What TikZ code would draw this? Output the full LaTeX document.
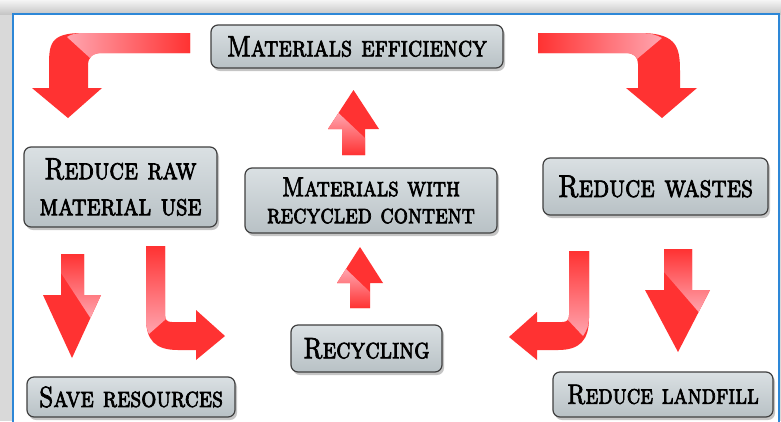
\documentclass[tikz,border=0pt]{standalone}
\usepackage{fontspec}
\usetikzlibrary{shadows}
\newfontfamily\boxfont{lmromancaps10-regular.otf}[FakeBold=2.5, FakeStretch=0.82]
\definecolor{arrowred}{RGB}{255,50,50}
\definecolor{arrowpink}{RGB}{255,165,175}
\definecolor{frameblue}{RGB}{45,135,215}
\definecolor{boxtop}{RGB}{218,224,227}
\definecolor{boxbot}{RGB}{184,193,197}

\begin{document}
\begin{tikzpicture}[x=1pt, y=-1pt,
  box/.style={draw=black!75, line width=1.2pt, rounded corners=7pt, top color=boxtop, bottom color=boxbot, align=center, inner sep=0pt, drop shadow={opacity=0.45, shadow xshift=2pt, shadow yshift=-3pt}},
  redarrow/.style={fill=arrowred}]
  \useasboundingbox (0,0) rectangle (781,421);
  % frame
  \fill[gray!30] (0,0) rectangle (781,421);
  \shade[top color=gray!8, bottom color=gray!45] (0,0) rectangle (781,14);
  \fill[white] (13,14) rectangle (779,440);
  \draw[frameblue, line width=1.5pt] (13,440) -- (13,14) -- (779,14) -- (779,440);

  \node[box, minimum width=292pt, minimum height=43pt, font=\boxfont\fontsize{29.5}{30}\selectfont] (eff) at (357,46.5) {Materials efficiency};
  \node[box, minimum width=193pt, minimum height=80pt, font=\boxfont\fontsize{30.5}{36}\selectfont] (raw) at (120.5,187) {Reduce raw\\material use};
  \node[box, minimum width=252pt, minimum height=65pt, font=\boxfont\fontsize{27.5}{27}\selectfont] (content) at (371,200.5) {Materials with\\recycled content};
  \node[box, minimum width=225pt, minimum height=57pt, font=\boxfont\fontsize{31.5}{32}\selectfont] (wastes) at (655.5,186.5) {Reduce wastes};
  \node[box, minimum width=208pt, minimum height=40pt, font=\boxfont\fontsize{29}{30}\selectfont] (save) at (131,397) {Save resources};
  \node[box, minimum width=151pt, minimum height=47pt, font=\boxfont\fontsize{29.5}{30}\selectfont] (recycling) at (366.5,348.5) {Recycling};
  \node[box, minimum width=220pt, minimum height=45pt, font=\boxfont\fontsize{28}{30}\selectfont] (landfill) at (663,394.5) {Reduce landfill};

  % bent arrows
  \fill[redarrow] (190,33) -- (82,33) .. controls (49,33) and (49,45) .. (49,68) -- (49,88) -- (32,88) -- (68,118) -- (102,88) -- (88,88) -- (88,66) .. controls (88,57) and (92,53) .. (102,53) -- (190,53) -- cycle;
  \shade[left color=arrowpink, right color=arrowred] (190,33) -- (82,33) .. controls (75,33) and (70,35) .. (67,37) -- (90,58) .. controls (92,55) and (96,53) .. (102,53) -- (190,53) -- cycle;
  \fill[redarrow] (538,33) -- (640,33) .. controls (680,33) and (680,50) .. (680,75) -- (680,88) -- (697,88) -- (662,118) -- (626,88) -- (638,88) -- (638,64) .. controls (638,57) and (634,53) .. (626,53) -- (538,53) -- cycle;
  \shade[left color=arrowred, right color=arrowpink] (538,33) -- (640,33) .. controls (650,33) and (657,35) .. (662,38) -- (637,59) .. controls (636,56) and (632,53) .. (626,53) -- (538,53) -- cycle;
  \fill[redarrow] (146,246) -- (146,318) .. controls (146,340) and (155,350) .. (178,350) -- (196,350) -- (196,360) -- (225,336) -- (196,310) -- (196,322) -- (172,322) .. controls (167,322) and (165,320) .. (165,314) -- (165,246) -- cycle;
  \shade[top color=arrowred, bottom color=arrowpink] (146,246) -- (146,318) .. controls (146,326) and (147,330) .. (149,334) -- (166,319) .. controls (165,318) and (165,316) .. (165,314) -- (165,246) -- cycle;
  \fill[redarrow] (589,251) -- (589,318) .. controls (589,340) and (580,350) .. (558,350) -- (537,350) -- (537,360) -- (509,337) -- (537,312) -- (537,322) -- (562,322) .. controls (567,322) and (569,320) .. (569,315) -- (569,251) -- cycle;
  \shade[top color=arrowred, bottom color=arrowpink] (569,251) -- (569,315) .. controls (569,317) and (568.5,318.5) .. (567.5,319.5) -- (583,336) .. controls (587,330) and (589,325) .. (589,318) -- (589,251) -- cycle;

  % straight arrows
  \fill[redarrow] (342,155) -- (342,129) -- (328,129) -- (353.5,90) -- (379,129) -- (365,129) -- (365,155) -- cycle;
  \shade[top color=arrowpink, bottom color=arrowred] (338.5,113) -- (365,138) -- (365,155) -- (342,155) -- (342,129) -- (328,129) -- cycle;
  \fill[redarrow] (350,308) -- (350,283) -- (337,283) -- (360,247) -- (383,283) -- (370,283) -- (370,308) -- cycle;
  \shade[top color=arrowpink, bottom color=arrowred] (346,269) -- (370,292) -- (370,308) -- (350,308) -- (350,283) -- (337,283) -- cycle;
  \fill[redarrow] (61,254) -- (61,295) -- (43,295) -- (72,358) -- (101,295) -- (84,295) -- (84,254) -- cycle;
  \shade[top color=arrowred, bottom color=arrowpink] (61,254) -- (61,273) -- (90.4,318) -- (101,295) -- (84,295) -- (84,254) -- cycle;
  \fill[redarrow] (664,249) -- (664,290) -- (645,290) -- (678,352) -- (710,290) -- (692,290) -- (692,249) -- cycle;
  \shade[top color=arrowred, bottom color=arrowpink] (664,249) -- (664,272) -- (698.6,312) -- (710,290) -- (692,290) -- (692,249) -- cycle;
\end{tikzpicture}
\end{document}
